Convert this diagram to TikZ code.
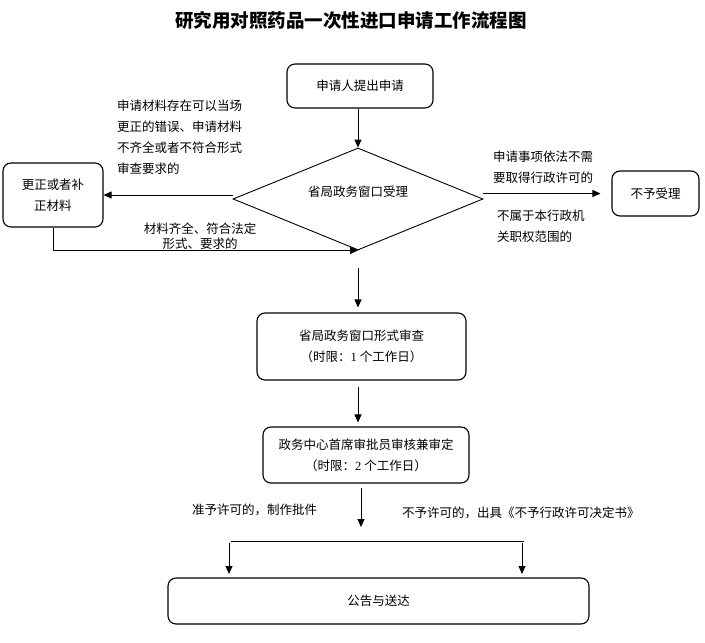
\documentclass[tikz,border=0pt]{standalone}
\usepackage{fontspec}
\setmainfont{Noto Sans CJK SC}
\newfontfamily\numfont{Liberation Serif}
\usetikzlibrary{arrows.meta,shapes.geometric}

\begin{document}
\begin{tikzpicture}[x=1pt, y=-1pt,
    font=\fontsize{12.5}{21}\selectfont,
    >={Triangle[length=8pt,width=7pt]},
    flowbox/.style={draw, line width=1.1pt, rounded corners=8pt, align=center},
    flowline/.style={line width=0.9pt},
    note/.style={align=left, inner sep=0pt}]

    \useasboundingbox (0,0) rectangle (705,643);

    % ========== 标题 ==========
    \node[font=\fontsize{18.5}{22}\selectfont\bfseries] (title) at (351,20)
         {研究用对照药品一次性进口申请工作流程图};

    % ========== 申请与受理 ==========
    \node[flowbox, minimum width=146, minimum height=44] (apply) at (360,86) {申请人提出申请};

    \node[diamond, draw, line width=0.9pt, minimum width=250, minimum height=102, inner sep=0pt,
          label={[yshift=7pt]center:省局政务窗口受理}] (accept) at (358,199) {};

    \node[flowbox, minimum width=100, minimum height=64] (fix) at (53,195) {更正或者补\\正材料};
    \node[flowbox, minimum width=87, minimum height=45] (reject) at (655.5,193.5) {不予受理};

    \draw[flowline, ->] (accept.north |- apply.south) -- (accept.north);

    % 左：补正材料，再回到受理
    \draw[flowline, ->] (accept.west |- fix.east) -- (fix.east);
    \draw[flowline, ->] (fix.south) |- (accept.south);
    \node[note, anchor=west] (fixtext) at (117,137)
         {申请材料存在可以当场\\更正的错误、申请材料\\不齐全或者不符合形式\\审查要求的};
    \node[align=center, inner sep=0pt, font=\fontsize{12.5}{15}\selectfont] (oktext) at (200,236)
         {材料齐全、符合法定\\形式、要求的};

    % 右：不予受理
    \draw[flowline, ->, shorten >=11pt] (accept.east |- reject.west) -- (reject.west);
    \node[note, anchor=west] (notneed) at (493,167.5) {申请事项依法不需\\要取得行政许可的};
    \node[note, anchor=west] (notours) at (497,226.5) {不属于本行政机\\关职权范围的};

    % ========== 审查与审定 ==========
    \node[flowbox, minimum width=209, minimum height=67] (review) at (361.5,346.5)
         {省局政务窗口形式审查\\（时限：{\numfont 1} 个工作日）};
    \node[flowbox, minimum width=206, minimum height=56] (decide) at (366,455)
         {政务中心首席审批员审核兼审定\\（时限：{\numfont 2} 个工作日）};

    \coordinate (gap1) at (358,268);
    \coordinate (gap2) at (358,387);
    \draw[flowline, ->, shorten >=5pt] (gap1) -- (gap1 |- review.north);
    \draw[flowline, ->, shorten >=4pt] (gap2) -- (gap2 |- decide.north);

    % ========== 公告与送达 ==========
    \node[flowbox, minimum width=421, minimum height=46] (notice) at (378.5,601) {公告与送达};

    \coordinate (gap3) at (361,488);
    \coordinate (split) at (361,527);
    \coordinate (barL) at (231,541);
    \coordinate (barR) at (524,541);
    \draw[flowline, ->] (gap3) -- (split);
    \draw[flowline] (barL) -- (barR);
    \draw[flowline, ->, shorten >=4pt] (229,543) -- (229,578);
    \draw[flowline, ->, shorten >=4pt] (522,543) -- (522,578);

    \node[note, anchor=west] (granttext) at (192,510) {准予许可的，制作批件};
    \node[note, anchor=west] (denytext) at (402,513) {不予许可的，出具《不予行政许可决定书》};

\end{tikzpicture}
\end{document}
